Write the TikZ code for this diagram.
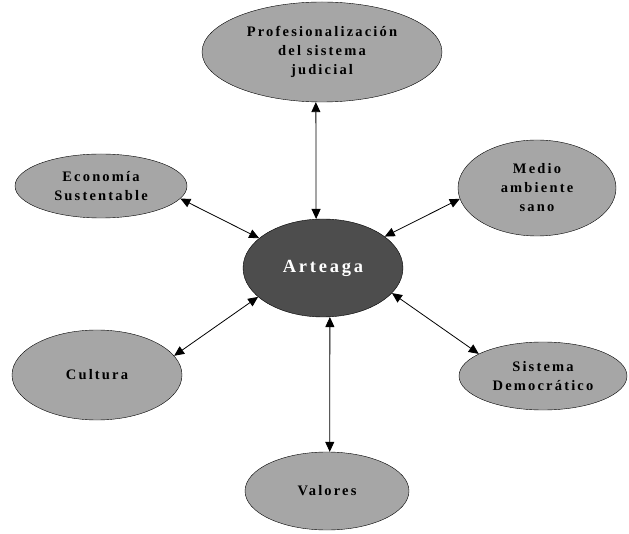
\documentclass[tikz,border=0pt]{standalone}
\usepackage{fontspec}
\setmainfont{Liberation Serif}[LetterSpace=15,BoldFont={Liberation Serif Bold}]
\usetikzlibrary{shapes,arrows.meta}
\definecolor{gristema}{HTML}{A6A6A6}
\definecolor{griscentro}{HTML}{4D4D4D}

\begin{document}
\begin{tikzpicture}[x=1pt,y=-1pt,
  tema/.style={ellipse,draw,fill=gristema,inner sep=0pt,align=center,
    font=\bfseries\fontsize{14.5}{19}\selectfont},
  centro/.style={ellipse,draw,fill=griscentro,text=white,inner sep=0pt,
    font=\bfseries\fontsize{18.5}{20}\selectfont},
  enlace/.style={{Triangle[length=10pt,width=9pt]}-{Triangle[length=10pt,width=9pt]},line width=0.8pt}]

\useasboundingbox (0,0) rectangle (629,534);

% centro
\node[centro,minimum width=160pt,minimum height=98pt] (arteaga) at (323,268) {Arteaga};

% temas
\node[tema,minimum width=240pt,minimum height=100pt] (prof) at (322,52)
  {Profesionalización\\del sistema\\judicial};
\node[tema,minimum width=172pt,minimum height=64pt] (econ) at (101,186)
  {Economía\\Sustentable};
\node[tema,minimum width=158pt,minimum height=96pt] (medio) at (537,188)
  {Medio\\ambiente\\sano};
\node[tema,minimum width=170pt,minimum height=90pt] (cultura) at (97,375)
  {Cultura};
\node[tema,minimum width=168pt,minimum height=68pt] (sistema) at (543,376)
  {Sistema\\Democrático};
\node[tema,minimum width=164pt,minimum height=78pt] (valores) at (327,491)
  {Valores};

% enlaces
\draw[enlace] (prof.-97) -- (arteaga.98);
\draw[enlace] (econ.-9) -- (arteaga.155);
\draw[enlace] (medio.188) -- (arteaga.27);
\draw[enlace] (cultura.14) -- (arteaga.204);
\draw[enlace] (sistema.161) -- (arteaga.340);
\draw[enlace] (valores.86) -- (arteaga.-82);

\end{tikzpicture}
\end{document}
